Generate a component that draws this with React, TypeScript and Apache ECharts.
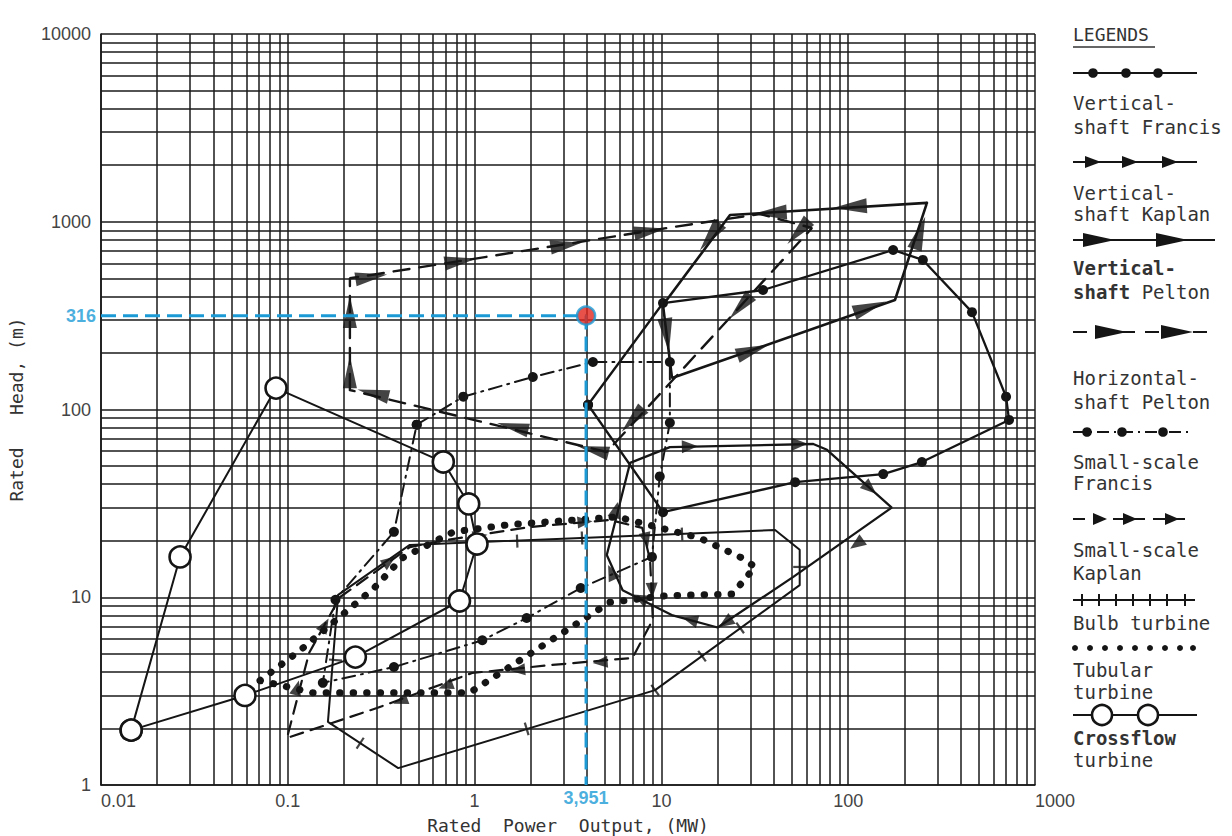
import { useEffect, useRef } from 'react';
import * as echarts from 'echarts';

// ---- axes -------------------------------------------------------------
const xTickLabels = ['0.01', '0.1', '1', '10', '100', '1000'];
const yTickLabels = ['1', '10', '100', '1000', '10000'];
const xDecades = [0.01, 0.1, 1, 10, 100];
const yDecades = [1, 10, 100, 1000];
const gridMultipliers = [1, 2, 3, 4, 5, 6, 7, 8, 9];

// ---- application envelopes: [power MW, head m] ---------------------------
const verticalFrancis = [
  [4.05, 106], [10.2, 369], [35, 433], [174, 707], [251, 626], [460, 330],
  [700, 117], [726, 88], [248, 52.5], [154, 45.3], [52, 41], [10.2, 28.4], [4.05, 106],
];
const verticalKaplan = [
  [6.8, 52], [11.1, 63], [65, 65.5], [77, 61], [171, 30], [50.6, 12.8],
  [20, 6.9], [11.5, 8.0], [6.2, 10.9], [5.1, 16.8], [6.8, 52],
];
const verticalKaplanArrows = [
  [14.2, 63.5], [55, 65.5], [131, 38], [111, 19.2], [22, 7.3], [14.2, 7.6],
  [7.7, 9.9], [5.4, 13.6], [5.7, 29.2],
];
const verticalPelton = [
  [264, 1260], [23.3, 1086], [10.2, 360], [11.4, 147], [178, 383], [264, 1260],
];
const verticalPeltonArrows = [
  [102, 1200], [38, 1113], [18.2, 830], [10.7, 249], [31, 207], [131, 351], [242, 871],
];
const horizontalPelton = [
  [0.215, 127], [0.215, 500], [0.91, 626], [10.7, 926], [33.7, 1100], [64, 926],
  [5.1, 59.4], [0.215, 127],
];
const horizontalPeltonArrows = [
  [0.286, 122], [1.6, 81], [4.3, 61], [7, 88], [26.4, 351], [54, 881], [8.7, 893],
  [3.1, 752], [0.84, 618], [0.28, 508], [0.215, 331], [0.215, 158],
];
const smallFrancis = [
  [0.49, 83], [0.87, 117], [2.05, 149], [4.3, 179], [11.1, 179], [11.1, 85],
  [9.8, 44], [8.9, 16.4], [3.7, 11.2], [1.9, 7.75], [1.1, 5.9], [0.37, 4.25],
  [0.154, 3.5], [0.18, 9.7], [0.37, 22.3], [0.49, 83],
];
const smallKaplan = [
  [0.19, 10], [0.45, 18.5], [0.71, 20.2], [2.0, 23.7], [5.3, 25.8], [7.9, 23.4],
  [8.7, 15.8], [9.0, 7.6], [7.0, 4.75], [2.6, 4.36], [0.97, 3.95], [0.3, 2.57],
  [0.099, 1.78], [0.13, 5.05], [0.19, 10],
];
const smallKaplanArrows = [
  [0.4, 2.8], [0.7, 3.37], [1.7, 4.1], [4.7, 4.5], [0.112, 3.3], [0.158, 7.1],
  [0.35, 15.6], [1.07, 21.2], [3.9, 25.2], [8.3, 20.2], [8.9, 10.9],
];
const bulbTurbine = [
  [0.186, 10.3], [0.45, 19], [40.6, 22.8], [55, 17.9], [55, 11.6], [9.25, 3.2],
  [0.39, 1.23], [0.164, 2.17], [0.186, 10.3],
];
const bulbTicks = [
  [1.9, 1.99], [16.5, 4.86], [26.4, 6.86], [9.25, 3.2], [1.69, 19.9], [3.76, 20.7],
  [12.9, 21.7], [0.18, 4.63], [55, 14.5], [0.244, 1.67],
];
const tubularTurbine = [
  [0.071, 3.6], [0.136, 3.1], [0.94, 3.1], [5.3, 9.4], [10.7, 10.2], [24, 10.4],
  [31.7, 14.5], [27, 16.2], [16, 20.7], [5.8, 26.8], [1.5, 24.3], [0.77, 22.3],
  [0.41, 16.2], [0.29, 11.2], [0.116, 5.2], [0.071, 3.6],
];
const crossflowTurbine = [
  [0.0145, 1.96], [0.0265, 16.4], [0.0865, 130], [0.68, 52.5], [0.93, 31.4],
  [1.03, 19.2], [0.83, 9.55], [0.23, 4.8], [0.059, 3.0], [0.0145, 1.96],
];

// highlighted rating: [power MW, head m]
const ratedPoint = [3.951, 316];

// ---- layout -----------------------------------------------------------
const W = 1232;
const H = 836;
const GRID = { left: 101, top: 34, width: 934, height: 751 };
const X_MIN = 0.01;
const X_MAX = 1000;
const Y_MIN = 1;
const Y_MAX = 10000;
const PX_PER_DEC_X = GRID.width / Math.log10(X_MAX / X_MIN);
const PX_PER_DEC_Y = GRID.height / Math.log10(Y_MAX / Y_MIN);

const INK = '#151515';
const TEXT = '#333';
const BLUE = '#1b9ad6';
const MONO = '"DejaVu Sans Mono", "Liberation Mono", monospace';
const SANS = '"Liberation Sans", Arial, sans-serif';

// heading of the outline segment nearest to a marker, in screen degrees (ccw)
function headingAt(poly: number[][], pt: number[]): number {
  const toPx = (p: number[]) => [Math.log10(p[0]) * PX_PER_DEC_X, -Math.log10(p[1]) * PX_PER_DEC_Y];
  const q = toPx(pt);
  let best = Infinity;
  let ang = 0;
  for (let i = 0; i < poly.length - 1; i++) {
    const a = toPx(poly[i]);
    const b = toPx(poly[i + 1]);
    const dx = b[0] - a[0];
    const dy = b[1] - a[1];
    const len2 = dx * dx + dy * dy || 1;
    let t = ((q[0] - a[0]) * dx + (q[1] - a[1]) * dy) / len2;
    t = Math.max(0, Math.min(1, t));
    const ex = a[0] + t * dx - q[0];
    const ey = a[1] + t * dy - q[1];
    const d = ex * ex + ey * ey;
    if (d < best - 1e-6) {
      best = d;
      ang = (Math.atan2(-dy, dx) * 180) / Math.PI;
    }
  }
  return ang;
}

const WEDGE = 'path://M0,0L30,6L0,12Z';
const TRI = 'path://M0,0L10,5L0,10Z';

function outline(name: string, data: number[][], lineType: any, width = 2.3, extra: any = {}) {
  return {
    name,
    type: 'line',
    data,
    showSymbol: false,
    symbol: 'none',
    lineStyle: { color: INK, width, type: lineType, cap: 'round' },
    z: 4,
    ...extra,
  };
}

function markers(name: string, poly: number[][], pts: number[][], symbol: string, size: number[], z = 5) {
  return {
    name,
    type: 'scatter',
    symbol,
    symbolSize: size,
    itemStyle: { color: INK },
    z,
    data: pts.map((p) => ({ value: p, symbolRotate: headingAt(poly, p) })),
  };
}

function bulbMarks() {
  return {
    name: 'Bulb ticks',
    type: 'scatter',
    symbol: 'rect',
    symbolSize: [2.2, 13],
    itemStyle: { color: INK },
    z: 5,
    data: bulbTicks.map((p) => ({ value: p, symbolRotate: headingAt(bulbTurbine, p) })),
  };
}

function gridLines() {
  const xs: any[] = [];
  xDecades.forEach((d) => gridMultipliers.forEach((m) => xs.push({ xAxis: d * m })));
  xs.push({ xAxis: X_MAX });
  const ys: any[] = [];
  yDecades.forEach((d) => gridMultipliers.forEach((m) => ys.push({ yAxis: d * m })));
  ys.push({ yAxis: Y_MAX });
  return {
    name: 'log paper',
    type: 'line',
    data: [[X_MIN, Y_MIN]],
    symbol: 'none',
    silent: true,
    z: 1,
    lineStyle: { opacity: 0 },
    markLine: {
      silent: true,
      symbol: ['none', 'none'],
      label: { show: false },
      lineStyle: { color: '#1a1a1a', width: 1.5, type: 'solid' },
      emphasis: { disabled: true },
      data: [...xs, ...ys],
    },
  };
}

function legendGraphics() {
  const LX = 1073;
  const els: any[] = [];
  const line = (x1: number, x2: number, y: number, dash?: number[], w = 2.2) =>
    els.push({
      type: 'line',
      shape: { x1, y1: y, x2, y2: y },
      style: { stroke: INK, lineWidth: w, lineDash: dash || null },
    });
  const dot = (x: number, y: number, r = 4.8) =>
    els.push({ type: 'circle', shape: { cx: x, cy: y, r }, style: { fill: INK } });
  const tri = (x: number, y: number, len = 16, half = 6) =>
    els.push({
      type: 'polygon',
      shape: { points: [[x - len / 2, y - half], [x + len / 2, y], [x - len / 2, y + half]] },
      style: { fill: INK },
    });
  const text = (y: number, t: string, rich?: any) =>
    els.push({
      type: 'text',
      x: LX,
      y,
      style: {
        text: t,
        fill: TEXT,
        font: `19px ${MONO}`,
        verticalAlign: 'middle',
        rich,
      },
    });

  // heading
  els.push({
    type: 'text',
    x: LX,
    y: 34,
    style: { text: 'LEGENDS', fill: TEXT, font: `18px ${MONO}`, verticalAlign: 'middle' },
  });
  els.push({
    type: 'line',
    shape: { x1: LX, y1: 47, x2: 1155, y2: 47 },
    style: { stroke: TEXT, lineWidth: 1.5 },
  });

  // vertical-shaft Francis
  line(LX, 1197, 73);
  [1093, 1126, 1158].forEach((x) => dot(x, 73));
  text(103, 'Vertical-');
  text(127, 'shaft Francis');

  // vertical-shaft Kaplan
  line(LX, 1197, 162);
  [1093, 1130, 1170].forEach((x) => tri(x, 162));
  text(193, 'Vertical-');
  text(214, 'shaft Kaplan');

  // vertical-shaft Pelton
  line(LX, 1215, 240);
  [1099, 1172].forEach((x) => tri(x, 240, 32, 7));
  els.push({
    type: 'text',
    x: LX,
    y: 268,
    style: { text: 'Vertical-', fill: TEXT, font: `bold 19px ${MONO}`, verticalAlign: 'middle' },
  });
  text(292, '{b|shaft} Pelton', { b: { fontWeight: 'bold', fontSize: 19, fontFamily: MONO, fill: TEXT } });

  // horizontal-shaft Pelton
  line(LX, 1215, 332, [14, 10]);
  [1111, 1177].forEach((x) => tri(x, 332, 32, 7));
  text(378, 'Horizontal-');
  text(402, 'shaft Pelton');

  // small-scale Francis
  line(LX, 1193, 432, [12, 5, 2, 5]);
  [1087, 1122, 1163].forEach((x) => dot(x, 432));
  text(462, 'Small-scale');
  text(483, 'Francis');

  // small-scale Kaplan
  line(LX, 1193, 519, [12, 8]);
  [1100, 1130, 1172].forEach((x) => tri(x, 519, 14, 6));
  text(550, 'Small-scale');
  text(573, 'Kaplan');

  // bulb turbine
  line(LX, 1195, 600);
  [1082, 1099, 1116, 1133, 1150, 1167, 1185].forEach((x) =>
    els.push({
      type: 'line',
      shape: { x1: x, y1: 594, x2: x, y2: 606 },
      style: { stroke: INK, lineWidth: 2 },
    })
  );
  text(623, 'Bulb turbine');

  // tubular turbine
  [1075, 1090, 1105, 1120, 1135, 1150, 1165, 1180, 1193].forEach((x) => dot(x, 648, 3));
  text(670, 'Tubular');
  text(692, 'turbine');

  // crossflow turbine
  line(LX, 1197, 715);
  [1102, 1148].forEach((x) =>
    els.push({
      type: 'circle',
      shape: { cx: x, cy: 715, r: 10 },
      style: { fill: '#fff', stroke: INK, lineWidth: 2.6 },
    })
  );
  els.push({
    type: 'text',
    x: LX,
    y: 738,
    style: { text: 'Crossflow', fill: TEXT, font: `bold 19px ${MONO}`, verticalAlign: 'middle' },
  });
  text(760, 'turbine');

  return els;
}

export default function App() {
  const ref = useRef<HTMLDivElement>(null);

  useEffect(() => {
    if (!ref.current) return;
    const chart = echarts.init(ref.current, null, { renderer: 'svg' });

    const option: any = {
      animation: false,
      backgroundColor: '#fff',
      grid: { ...GRID, containLabel: false, outerBoundsMode: 'none' },
      xAxis: {
        type: 'log',
        logBase: 10,
        min: X_MIN,
        max: X_MAX,
        name: 'Rated  Power  Output, (MW)',
        nameLocation: 'middle',
        nameGap: 31,
        nameTextStyle: { fontFamily: MONO, fontSize: 18, color: TEXT },
        axisLine: { show: true, lineStyle: { color: INK, width: 1.6 } },
        axisTick: { show: false },
        splitLine: { show: false },
        axisLabel: {
          margin: 7,
          fontFamily: SANS,
          fontSize: 18,
          color: '#444',
          alignMinLabel: 'left',
          alignMaxLabel: 'left',
          formatter: (_v: number, i: number) => xTickLabels[i] ?? '',
        },
      },
      yAxis: {
        type: 'log',
        logBase: 10,
        min: Y_MIN,
        max: Y_MAX,
        name: 'Rated   Head, (m)',
        nameLocation: 'middle',
        nameGap: 76,
        nameTextStyle: { fontFamily: MONO, fontSize: 18, color: TEXT },
        axisLine: { show: true, lineStyle: { color: INK, width: 1.6 } },
        axisTick: { show: false },
        splitLine: { show: false },
        axisLabel: {
          margin: 10,
          fontFamily: SANS,
          fontSize: 18,
          color: '#444',
          verticalAlign: 'middle',
          padding: [0, 0, 16, 0],
          formatter: (_v: number, i: number) => yTickLabels[i] ?? '',
        },
      },
      series: [
        gridLines(),
        outline('Vertical-shaft Francis', verticalFrancis, 'solid', 2.3, {
          showSymbol: true,
          symbol: 'circle',
          symbolSize: 10,
          itemStyle: { color: INK },
        }),
        outline('Vertical-shaft Kaplan', verticalKaplan, 'solid', 2.3),
        markers('Vertical-shaft Kaplan arrows', verticalKaplan, verticalKaplanArrows, TRI, [16, 13]),
        outline('Vertical-shaft Pelton', verticalPelton, 'solid', 2.6),
        markers('Vertical-shaft Pelton arrows', verticalPelton, verticalPeltonArrows, WEDGE, [34, 15]),
        outline('Horizontal-shaft Pelton', horizontalPelton, [16, 10], 2.4),
        markers('Horizontal-shaft Pelton arrows', horizontalPelton, horizontalPeltonArrows, WEDGE, [32, 14]),
        outline('Small-scale Francis', smallFrancis, [13, 6, 2, 6], 2, {
          showSymbol: true,
          symbol: 'circle',
          symbolSize: 10,
          itemStyle: { color: INK },
        }),
        outline('Small-scale Kaplan', smallKaplan, [13, 8], 2.2),
        markers('Small-scale Kaplan arrows', smallKaplan, smallKaplanArrows, TRI, [15, 12]),
        outline('Bulb turbine', bulbTurbine, 'solid', 2),
        bulbMarks(),
        outline('Tubular turbine', tubularTurbine, [0.5, 13], 7),
        outline('Crossflow turbine', crossflowTurbine, 'solid', 2, {
          showSymbol: true,
          symbol: 'circle',
          symbolSize: 21,
          itemStyle: { color: '#fff', borderColor: INK, borderWidth: 2.6 },
          z: 6,
        }),
        {
          name: 'rating guide',
          type: 'line',
          data: [[X_MIN, ratedPoint[1]], ratedPoint, [ratedPoint[0], Y_MIN]],
          symbol: 'none',
          lineStyle: { color: BLUE, width: 3, type: [15, 7] },
          z: 10,
        },
        {
          name: 'rating labels',
          type: 'scatter',
          symbolSize: 0,
          z: 11,
          data: [
            {
              value: [X_MIN, ratedPoint[1]],
              label: {
                show: true,
                position: 'left',
                distance: 5,
                formatter: String(ratedPoint[1]),
              },
            },
            {
              value: [ratedPoint[0], Y_MIN],
              label: {
                show: true,
                position: 'bottom',
                distance: 4,
                formatter: String(ratedPoint[0]).replace('.', ','),
              },
            },
          ],
          label: { color: BLUE, fontWeight: 'bold', fontSize: 18, fontFamily: SANS },
        },
        {
          name: 'rated point',
          type: 'scatter',
          data: [ratedPoint],
          symbol: 'circle',
          symbolSize: 18,
          itemStyle: { color: '#e2261c', borderColor: BLUE, borderWidth: 2.5 },
          z: 12,
        },
      ],
      graphic: legendGraphics(),
    };

    chart.setOption(option);
    return () => chart.dispose();
  }, []);

  return (
    <div
      ref={ref}
      style={{ position: 'fixed', left: 0, top: 0, width: W, height: H, background: '#fff' }}
    />
  );
}
